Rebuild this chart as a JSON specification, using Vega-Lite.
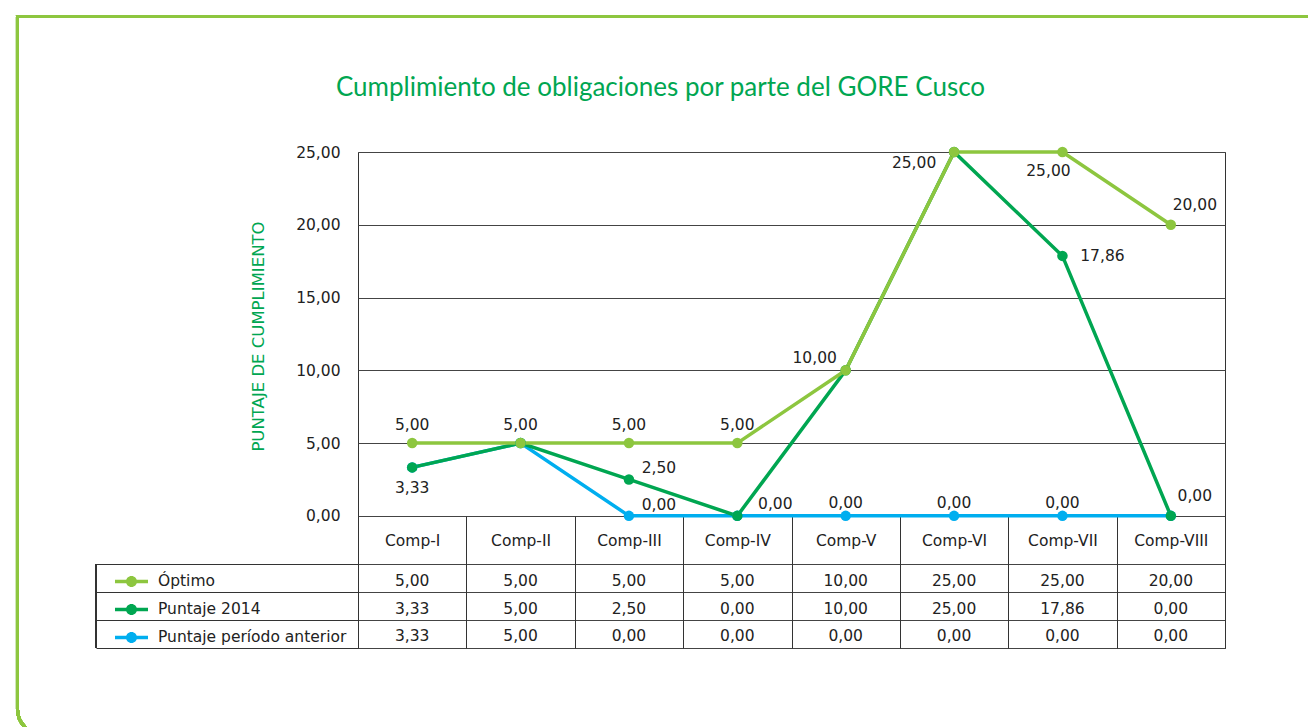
{
  "$schema": "https://vega.github.io/schema/vega-lite/v6.json",
  "autosize": {"type": "none"},
  "width": 867,
  "height": 496,
  "padding": {"left": 358, "top": 152, "right": 83, "bottom": 79},
  "background": "white",
  "config": {
    "font": "DejaVu Sans",
    "locale": {"number": {"decimal": ",", "thousands": ".", "grouping": [3], "currency": ["", ""]}},
    "view": {"stroke": "#333", "strokeWidth": 1}
  },
  "title": {
    "text": "Cumplimiento de obligaciones por parte del GORE Cusco",
    "anchor": "middle", "dx": -131, "frame": "group", "offset": -107, "baseline": "alphabetic",
    "font": "Lato", "fontSize": 26, "fontWeight": "normal", "color": "#00a651"
  },
  "data": {"values": [
    {"comp": "Comp-I", "serie": "Puntaje período anterior", "valor": 3.33},
    {"comp": "Comp-II", "serie": "Puntaje período anterior", "valor": 5},
    {"comp": "Comp-III", "serie": "Puntaje período anterior", "valor": 0},
    {"comp": "Comp-IV", "serie": "Puntaje período anterior", "valor": 0},
    {"comp": "Comp-V", "serie": "Puntaje período anterior", "valor": 0},
    {"comp": "Comp-VI", "serie": "Puntaje período anterior", "valor": 0},
    {"comp": "Comp-VII", "serie": "Puntaje período anterior", "valor": 0},
    {"comp": "Comp-VIII", "serie": "Puntaje período anterior", "valor": 0},
    {"comp": "Comp-I", "serie": "Puntaje 2014", "valor": 3.33},
    {"comp": "Comp-II", "serie": "Puntaje 2014", "valor": 5},
    {"comp": "Comp-III", "serie": "Puntaje 2014", "valor": 2.5},
    {"comp": "Comp-IV", "serie": "Puntaje 2014", "valor": 0},
    {"comp": "Comp-V", "serie": "Puntaje 2014", "valor": 10},
    {"comp": "Comp-VI", "serie": "Puntaje 2014", "valor": 25},
    {"comp": "Comp-VII", "serie": "Puntaje 2014", "valor": 17.86},
    {"comp": "Comp-VIII", "serie": "Puntaje 2014", "valor": 0},
    {"comp": "Comp-I", "serie": "Óptimo", "valor": 5},
    {"comp": "Comp-II", "serie": "Óptimo", "valor": 5},
    {"comp": "Comp-III", "serie": "Óptimo", "valor": 5},
    {"comp": "Comp-IV", "serie": "Óptimo", "valor": 5},
    {"comp": "Comp-V", "serie": "Óptimo", "valor": 10},
    {"comp": "Comp-VI", "serie": "Óptimo", "valor": 25},
    {"comp": "Comp-VII", "serie": "Óptimo", "valor": 25},
    {"comp": "Comp-VIII", "serie": "Óptimo", "valor": 20}
  ]},
  "resolve": {"scale": {"x": "independent"}},
  "layer": [
    {
      "layer": [
        {
          "mark": {"type": "line", "strokeWidth": 3.5},
          "encoding": {
            "x": {
              "field": "comp", "type": "nominal",
              "scale": {"type": "band", "paddingInner": 0, "paddingOuter": 0,
                "domain": ["Comp-I", "Comp-II", "Comp-III", "Comp-IV", "Comp-V", "Comp-VI", "Comp-VII", "Comp-VIII"]},
              "axis": {
                "orient": "bottom", "offset": -132, "tickBand": "extent", "tickSize": 132,
                "tickColor": "#333", "tickWidth": 1, "domain": false, "grid": false,
                "labelPadding": -115, "labelFont": "DejaVu Sans", "labelFontSize": 15.5, "labelColor": "#222",
                "labelAngle": 0, "title": null
              }
            },
            "y": {
              "field": "valor", "type": "quantitative",
              "scale": {"domain": [-9.08, 25], "nice": false, "zero": false},
              "axis": {
                "values": [25, 20, 15, 10, 5, 0, -3.33, -5.25, -7.17, -9.08],
                "format": ".2f",
                "labelExpr": "datum.value >= 0 ? datum.label : ''",
                "grid": true, "gridColor": "#444", "gridWidth": 1, "gridOpacity": 1,
                "domain": false, "ticks": true, "tickSize": 262, "tickColor": "#333", "tickWidth": 1,
                "tickOpacity": {"condition": {"test": "datum.value < 0", "value": 1}, "value": 0},
                "labelPadding": -244, "labelFont": "DejaVu Sans", "labelFontSize": 15.5, "labelColor": "#222",
                "labelOverlap": false, "labelFlush": false,
                "title": "PUNTAJE DE CUMPLIMIENTO", "titleColor": "#00a651", "titleFont": "DejaVu Sans",
                "titleFontSize": 16.5, "titleFontWeight": "normal", "titleX": -100, "titleY": 184,
                "titleAngle": -90, "titleAlign": "center", "titleBaseline": "middle"
              }
            },
            "color": {
              "field": "serie", "type": "nominal",
              "scale": {"domain": ["Óptimo", "Puntaje 2014", "Puntaje período anterior"], "range": ["#8dc63f", "#00a651", "#00aeef"]},
              "legend": {
                "orient": "none", "legendX": -243, "legendY": 415.5, "title": null,
                "symbolType": "M-1,-0.106L1,-0.106L1,0.106L-1,0.106Z M0.333,0 A0.333,0.333 0 1,1 -0.333,0 A0.333,0.333 0 1,1 0.333,0 Z",
                "symbolSize": 1089, "symbolStrokeWidth": 0, "symbolOpacity": 1,
                "labelFont": "DejaVu Sans", "labelFontSize": 15.5, "labelColor": "#222", "labelOffset": 10,
                "labelLimit": 400, "clipHeight": 27.9, "rowPadding": 0, "padding": 0
              }
            }
          }
        },
        {
          "mark": {"type": "point", "filled": true, "size": 110, "opacity": 1, "shape": "circle", "strokeWidth": 0},
          "encoding": {
            "x": {"field": "comp", "type": "nominal"},
            "y": {"field": "valor", "type": "quantitative"},
            "fill": {
              "field": "serie", "type": "nominal",
              "scale": {"domain": ["Óptimo", "Puntaje 2014", "Puntaje período anterior"], "range": ["#8dc63f", "#00a651", "#00aeef"]},
              "legend": {
                "orient": "none", "legendX": -243, "legendY": 415.5, "title": null,
                "symbolType": "M-1,-0.106L1,-0.106L1,0.106L-1,0.106Z M0.333,0 A0.333,0.333 0 1,1 -0.333,0 A0.333,0.333 0 1,1 0.333,0 Z",
                "symbolSize": 1089, "symbolStrokeWidth": 0, "symbolOpacity": 1,
                "labelFont": "DejaVu Sans", "labelFontSize": 15.5, "labelColor": "#222", "labelOffset": 10,
                "labelLimit": 400, "clipHeight": 27.9, "rowPadding": 0, "padding": 0
              }
            }
          }
        },
        {
          "mark": {"type": "text", "fontSize": 15.5, "color": "#222", "baseline": "middle", "dy": -18},
          "transform": [{"filter": "datum.serie == 'Óptimo' && indexof(['Comp-I','Comp-II','Comp-III','Comp-IV'], datum.comp) >= 0"}],
          "encoding": {"x": {"field": "comp", "type": "nominal"}, "y": {"field": "valor", "type": "quantitative"}, "text": {"field": "valor", "format": ".2f"}}
        },
        {
          "mark": {"type": "text", "fontSize": 15.5, "color": "#222", "baseline": "middle", "dy": -13},
          "transform": [{"filter": "datum.serie == 'Puntaje período anterior' && indexof(['Comp-V','Comp-VI','Comp-VII'], datum.comp) >= 0"}],
          "encoding": {"x": {"field": "comp", "type": "nominal"}, "y": {"field": "valor", "type": "quantitative"}, "text": {"field": "valor", "format": ".2f"}}
        },
        {
          "mark": {"type": "text", "fontSize": 15.5, "color": "#222", "baseline": "middle", "dx": -31, "dy": -12},
          "transform": [{"filter": "datum.serie == 'Óptimo' && datum.comp == 'Comp-V'"}],
          "encoding": {"x": {"field": "comp", "type": "nominal"}, "y": {"field": "valor", "type": "quantitative"}, "text": {"field": "valor", "format": ".2f"}}
        },
        {
          "mark": {"type": "text", "fontSize": 15.5, "color": "#222", "baseline": "middle", "dx": -40, "dy": 11},
          "transform": [{"filter": "datum.serie == 'Óptimo' && datum.comp == 'Comp-VI'"}],
          "encoding": {"x": {"field": "comp", "type": "nominal"}, "y": {"field": "valor", "type": "quantitative"}, "text": {"field": "valor", "format": ".2f"}}
        },
        {
          "mark": {"type": "text", "fontSize": 15.5, "color": "#222", "baseline": "middle", "dx": -14, "dy": 19},
          "transform": [{"filter": "datum.serie == 'Óptimo' && datum.comp == 'Comp-VII'"}],
          "encoding": {"x": {"field": "comp", "type": "nominal"}, "y": {"field": "valor", "type": "quantitative"}, "text": {"field": "valor", "format": ".2f"}}
        },
        {
          "mark": {"type": "text", "fontSize": 15.5, "color": "#222", "baseline": "middle", "dx": 24, "dy": -20},
          "transform": [{"filter": "datum.serie != 'Puntaje período anterior' && datum.comp == 'Comp-VIII'"}],
          "encoding": {"x": {"field": "comp", "type": "nominal"}, "y": {"field": "valor", "type": "quantitative"}, "text": {"field": "valor", "format": ".2f"}}
        },
        {
          "mark": {"type": "text", "fontSize": 15.5, "color": "#222", "baseline": "middle", "dy": 21},
          "transform": [{"filter": "datum.serie == 'Puntaje 2014' && datum.comp == 'Comp-I'"}],
          "encoding": {"x": {"field": "comp", "type": "nominal"}, "y": {"field": "valor", "type": "quantitative"}, "text": {"field": "valor", "format": ".2f"}}
        },
        {
          "mark": {"type": "text", "fontSize": 15.5, "color": "#222", "baseline": "middle", "dx": 30, "dy": -11},
          "transform": [{"filter": "datum.serie != 'Óptimo' && datum.comp == 'Comp-III'"}],
          "encoding": {"x": {"field": "comp", "type": "nominal"}, "y": {"field": "valor", "type": "quantitative"}, "text": {"field": "valor", "format": ".2f"}}
        },
        {
          "mark": {"type": "text", "fontSize": 15.5, "color": "#222", "baseline": "middle", "dx": 38, "dy": -12},
          "transform": [{"filter": "datum.serie == 'Puntaje 2014' && datum.comp == 'Comp-IV'"}],
          "encoding": {"x": {"field": "comp", "type": "nominal"}, "y": {"field": "valor", "type": "quantitative"}, "text": {"field": "valor", "format": ".2f"}}
        },
        {
          "mark": {"type": "text", "fontSize": 15.5, "color": "#222", "baseline": "middle", "dx": 40, "dy": 0},
          "transform": [{"filter": "datum.serie == 'Puntaje 2014' && datum.comp == 'Comp-VII'"}],
          "encoding": {"x": {"field": "comp", "type": "nominal"}, "y": {"field": "valor", "type": "quantitative"}, "text": {"field": "valor", "format": ".2f"}}
        },
        {
          "mark": {"type": "text", "fontSize": 15.5, "color": "#222", "baseline": "middle"},
          "transform": [{"filter": "datum.serie == 'Óptimo'"}],
          "encoding": {"x": {"field": "comp", "type": "nominal"}, "y": {"datum": -4.45}, "text": {"field": "valor", "format": ".2f"}}
        },
        {
          "mark": {"type": "text", "fontSize": 15.5, "color": "#222", "baseline": "middle"},
          "transform": [{"filter": "datum.serie == 'Puntaje 2014'"}],
          "encoding": {"x": {"field": "comp", "type": "nominal"}, "y": {"datum": -6.37}, "text": {"field": "valor", "format": ".2f"}}
        },
        {
          "mark": {"type": "text", "fontSize": 15.5, "color": "#222", "baseline": "middle"},
          "transform": [{"filter": "datum.serie == 'Puntaje período anterior'"}],
          "encoding": {"x": {"field": "comp", "type": "nominal"}, "y": {"datum": -8.28}, "text": {"field": "valor", "format": ".2f"}}
        }
      ]
    },
    {
      "layer": [
        {
          "mark": {"type": "rect", "fill": "transparent", "stroke": "#8dc63f", "strokeWidth": 3, "cornerRadiusBottomLeft": 25},
          "encoding": {
            "x": {"datum": -3.142, "type": "quantitative", "scale": {"domain": [0, 8], "nice": false, "zero": false}, "axis": null},
            "x2": {"datum": 9.5},
            "y": {"datum": 34.31},
            "y2": {"datum": -15}
          }
        },
        {
          "mark": {"type": "rule", "color": "#333", "strokeWidth": 1},
          "encoding": {
            "x": {"datum": -2.42, "type": "quantitative", "scale": {"domain": [0, 8], "nice": false, "zero": false}, "axis": null},
            "y": {"datum": -3.33},
            "y2": {"datum": -9.08}
          }
        }
      ]
    }
  ]
}
